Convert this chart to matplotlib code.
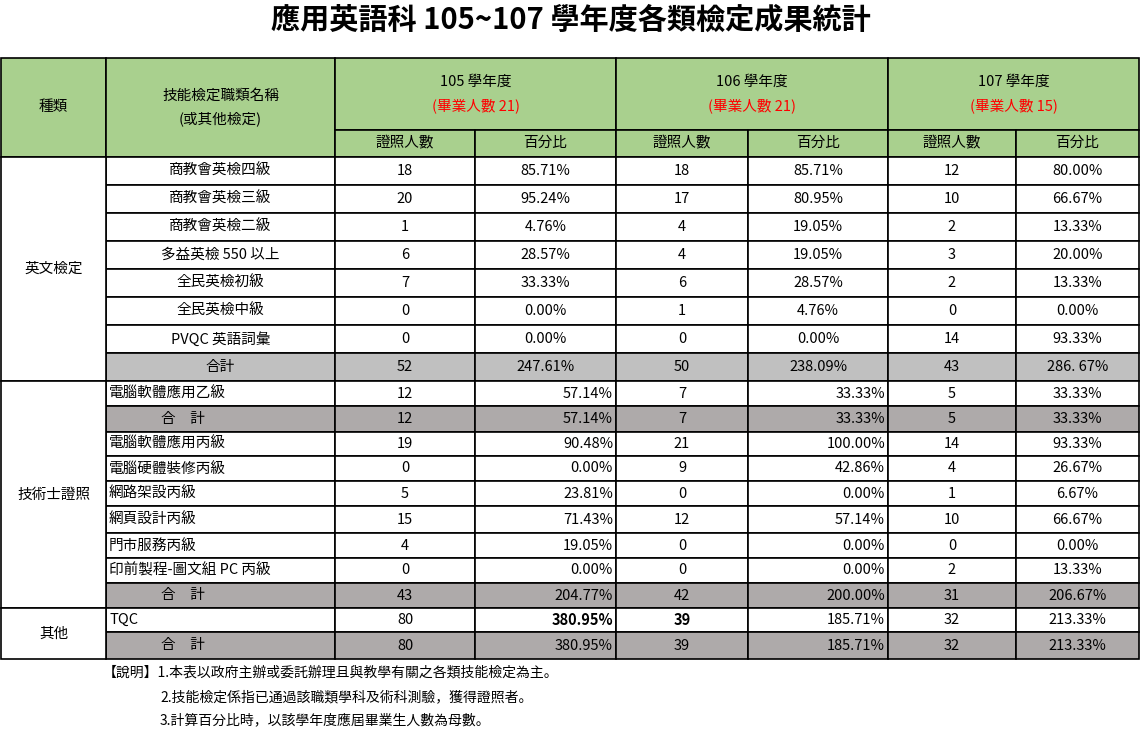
import matplotlib
matplotlib.use("Agg")
import matplotlib.pyplot as plt
from matplotlib.patches import Rectangle
from matplotlib import font_manager

_names = {f.name for f in font_manager.fontManager.ttflist}
_cjk = [n for n in ["Noto Sans CJK TC", "Noto Sans CJK JP", "Noto Sans CJK SC", "Noto Sans CJK KR"] if n in _names]
plt.rcParams["font.family"] = (_cjk[:1] or []) + ["DejaVu Sans"]

title = "應用英語科 105~107 學年度各類檢定成果統計"
years = ["105 學年度", "106 學年度", "107 學年度"]
grads = ["(畢業人數 21)", "(畢業人數 21)", "(畢業人數 15)"]
groups = ["英文檢定", "技術士證照", "其他"]

eng_names = ["商教會英檢四級", "商教會英檢三級", "商教會英檢二級", "多益英檢 550 以上",
             "全民英檢初級", "全民英檢中級", "PVQC 英語詞彙", "合計"]
eng_c105 = ["18", "20", "1", "6", "7", "0", "0", "52"]
eng_p105 = ["85.71%", "95.24%", "4.76%", "28.57%", "33.33%", "0.00%", "0.00%", "247.61%"]
eng_c106 = ["18", "17", "4", "4", "6", "1", "0", "50"]
eng_p106 = ["85.71%", "80.95%", "19.05%", "19.05%", "28.57%", "4.76%", "0.00%", "238.09%"]
eng_c107 = ["12", "10", "2", "3", "2", "0", "14", "43"]
eng_p107 = ["80.00%", "66.67%", "13.33%", "20.00%", "13.33%", "0.00%", "93.33%", "286. 67%"]

tech_names = ["電腦軟體應用乙級", "合　計", "電腦軟體應用丙級", "電腦硬體裝修丙級", "網路架設丙級",
              "網頁設計丙級", "門市服務丙級", "印前製程-圖文組 PC 丙級", "合　計"]
tech_c105 = ["12", "12", "19", "0", "5", "15", "4", "0", "43"]
tech_p105 = ["57.14%", "57.14%", "90.48%", "0.00%", "23.81%", "71.43%", "19.05%", "0.00%", "204.77%"]
tech_c106 = ["7", "7", "21", "9", "0", "12", "0", "0", "42"]
tech_p106 = ["33.33%", "33.33%", "100.00%", "42.86%", "0.00%", "57.14%", "0.00%", "0.00%", "200.00%"]
tech_c107 = ["5", "5", "14", "4", "1", "10", "0", "2", "31"]
tech_p107 = ["33.33%", "33.33%", "93.33%", "26.67%", "6.67%", "66.67%", "0.00%", "13.33%", "206.67%"]

oth_names = ["TQC", "合　計"]
oth_c105 = ["80", "80"]
oth_p105 = ["380.95%", "380.95%"]
oth_c106 = ["39", "39"]
oth_p106 = ["185.71%", "185.71%"]
oth_c107 = ["32", "32"]
oth_p107 = ["213.33%", "213.33%"]

notes = ["【說明】1.本表以政府主辦或委託辦理且與教學有關之各類技能檢定為主。",
         "2.技能檢定係指已通過該職類學科及術科測驗，獲得證照者。",
         "3.計算百分比時，以該學年度應屆畢業生人數為母數。"]

W, H = 1141, 732
fig = plt.figure(figsize=(W / 100, H / 100), dpi=100)
ax = fig.add_axes([0, 0, 1, 1])
ax.set_xlim(0, W); ax.set_ylim(H, 0); ax.axis("off")

GREEN = "#a9d08e"; G1 = "#c0c0c0"; G2 = "#aeaaaa"
xs = [1, 106, 335, 475, 616, 748, 888, 1016, 1139]
FS = 10.5

def cell(x0, x1, y0, y1, fc="white"):
    ax.add_patch(Rectangle((x0, y0), x1 - x0, y1 - y0, facecolor=fc, edgecolor="black", lw=1.2))

def txt(x, y, s, ha="center", color="black", fs=FS, bold=False):
    ax.text(x, y, s, ha=ha, va="center", fontsize=fs, color=color,
            fontweight="bold" if bold else "normal")

ax.text(W / 2, 20, title, ha="center", va="center", fontsize=21, fontweight="bold")

cell(xs[0], xs[1], 58, 157, GREEN); txt((xs[0] + xs[1]) / 2, 107, "種類")
cell(xs[1], xs[2], 58, 157, GREEN)
txt((xs[1] + xs[2]) / 2, 96, "技能檢定職類名稱"); txt((xs[1] + xs[2]) / 2, 119, "(或其他檢定)")
for i in range(3):
    a, b, c = xs[2 + 2 * i], xs[3 + 2 * i], xs[4 + 2 * i]
    cell(a, c, 58, 130, GREEN)
    txt((a + c) / 2, 82, years[i]); txt((a + c) / 2, 106, grads[i], color="red")
    cell(a, b, 130, 157, GREEN); txt((a + b) / 2, 143, "證照人數")
    cell(b, c, 130, 157, GREEN); txt((b + c) / 2, 143, "百分比")

def section(y0, heights, names, cols, fills, name_align, pct_align, bold=(), grp=""):
    y = y0
    for r, h in enumerate(heights):
        fc = fills[r]
        cell(xs[1], xs[2], y, y + h, fc)
        na = name_align[r]
        if na == "left":
            txt(xs[1] + 3, y + h / 2, names[r], ha="left")
        elif na == "indent":
            txt(xs[1] + 55, y + h / 2, names[r], ha="left")
        else:
            txt((xs[1] + xs[2]) / 2, y + h / 2, names[r])
        for j in range(6):
            a, b = xs[2 + j], xs[3 + j]
            cell(a, b, y, y + h, fc)
            isb = (r, j) in bold
            if pct_align[j] == "right":
                txt(b - 3, y + h / 2, cols[j][r], ha="right", bold=isb)
            else:
                txt((a + b) / 2, y + h / 2, cols[j][r], bold=isb)
        y += h
    cell(xs[0], xs[1], y0, y, "white")
    txt((xs[0] + xs[1]) / 2, (y0 + y) / 2, grp)
    return y

y = section(157, [28] * 8, eng_names,
            [eng_c105, eng_p105, eng_c106, eng_p106, eng_c107, eng_p107],
            ["white"] * 7 + [G1], ["center"] * 8, ["center"] * 6, grp=groups[0])
y = section(y, [25, 26, 24, 25, 25, 27, 25, 25, 25], tech_names,
            [tech_c105, tech_p105, tech_c106, tech_p106, tech_c107, tech_p107],
            ["white", G2, "white", "white", "white", "white", "white", "white", G2],
            ["left", "indent", "left", "left", "left", "left", "left", "left", "indent"],
            ["center", "right", "center", "right", "center", "center"], grp=groups[1])
y = section(y, [24, 27], oth_names,
            [oth_c105, oth_p105, oth_c106, oth_p106, oth_c107, oth_p107],
            ["white", G2], ["left", "indent"],
            ["center", "right", "center", "right", "center", "center"],
            bold={(0, 1), (0, 2)}, grp=groups[2])

txt(103, 673, notes[0], ha="left", fs=10)
txt(160, 697, notes[1], ha="left", fs=10)
txt(160, 720, notes[2], ha="left", fs=10)

fig.savefig("out.png", dpi=100)
